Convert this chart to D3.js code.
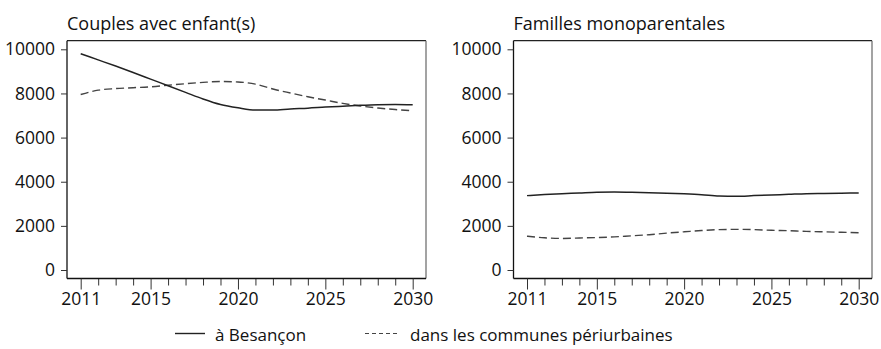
<!DOCTYPE html>
<html>
<head>
<meta charset="utf-8">
<script src="https://cdn.jsdelivr.net/npm/d3@7"></script>
<style>
  html, body { margin: 0; padding: 0; background: #fff; }
  svg { display: block; font-family: "Open Sans", sans-serif; }
</style>
</head>
<body>
<svg id="chart" width="881" height="349"></svg>
<script>
const years = [2011,2012,2013,2014,2015,2016,2017,2018,2019,2020,2021,2022,2023,2024,2025,2026,2027,2028,2029,2030];
const couplesBesancon = [9800,9520,9240,8950,8650,8350,8050,7750,7500,7350,7250,7250,7300,7330,7380,7420,7460,7490,7500,7490];
const couplesPeriurbain = [7950,8150,8220,8260,8300,8370,8440,8500,8540,8520,8420,8200,8020,7850,7700,7550,7430,7340,7270,7220];
const monoBesancon = [3370,3420,3460,3490,3520,3530,3520,3500,3480,3450,3410,3350,3340,3370,3400,3430,3460,3470,3480,3490];
const monoPeriurbain = [1530,1460,1430,1450,1470,1500,1550,1600,1670,1730,1790,1830,1840,1830,1800,1780,1750,1730,1710,1690];
const yTicks = [0,2000,4000,6000,8000,10000];
const xLabelTicks = [2011,2015,2020,2025,2030];
const panelTitles = ["Couples avec enfant(s)", "Familles monoparentales"];
const seriesNames = ["à Besançon", "dans les communes périurbaines"];

const svg = d3.select("#chart");

const panels = [
  { title: panelTitles[0], left: 67, right: 426, x0: 80.7, x1: 412.7, solid: couplesBesancon, dashed: couplesPeriurbain },
  { title: panelTitles[1], left: 513.5, right: 872, x0: 527, x1: 858.7, solid: monoBesancon, dashed: monoPeriurbain }
];
const frameTop = 40.7, frameBottom = 278.5;
const y = d3.scaleLinear().domain([0, 10000]).range([270, 49.3]);

panels.forEach(p => {
  const g = svg.append("g");
  const x = d3.scaleLinear().domain([2011, 2030]).range([p.x0, p.x1]);

  // frame
  g.append("line").attr("x1", p.left).attr("x2", p.right).attr("y1", frameTop).attr("y2", frameTop).attr("stroke", "#222").attr("stroke-width", 1.2);
  g.append("line").attr("x1", p.right).attr("x2", p.right).attr("y1", frameTop).attr("y2", frameBottom).attr("stroke", "#666").attr("stroke-width", 1.2);

  // y axis
  const yAxis = d3.axisLeft(y).tickValues(yTicks).tickSize(6).tickPadding(6).tickFormat(d3.format("d"));
  const ya = g.append("g").attr("transform", `translate(${p.left},0)`).call(yAxis);
  ya.select(".domain").attr("d", `M0,${frameTop}V${frameBottom}`).attr("stroke", "#111").attr("stroke-width", 1.3);
  ya.selectAll(".tick line").attr("stroke", "#333");
  ya.selectAll(".tick text").attr("font-size", 17.5).attr("fill", "#111").attr("font-family", "Open Sans");

  // x axis: minor ticks every year, labeled longer ticks
  const xAxisMinor = d3.axisBottom(x).tickValues(years.filter(v => !xLabelTicks.includes(v))).tickSize(7).tickFormat("");
  const xm = g.append("g").attr("transform", `translate(0,${frameBottom})`).call(xAxisMinor);
  xm.select(".domain").remove();
  xm.selectAll(".tick line").attr("stroke", "#333");
  const xAxis = d3.axisBottom(x).tickValues(xLabelTicks).tickSize(11).tickPadding(3).tickFormat(d3.format("d"));
  const xa = g.append("g").attr("transform", `translate(0,${frameBottom})`).call(xAxis);
  xa.select(".domain").attr("d", `M${p.left},0H${p.right}`).attr("stroke", "#111").attr("stroke-width", 1.3);
  xa.selectAll(".tick line").attr("stroke", "#333");
  xa.selectAll(".tick text").attr("font-size", 17.5).attr("fill", "#111").attr("font-family", "Open Sans");

  // title
  g.append("text").attr("x", p.left).attr("y", 29.5).attr("font-size", 18).attr("fill", "#111").text(p.title);

  const line = d3.line().x((d, i) => x(years[i])).y(d => y(d)).curve(d3.curveMonotoneX);
  g.append("path").datum(p.dashed).attr("d", line).attr("fill", "none").attr("stroke", "#444").attr("stroke-width", 1.4).attr("stroke-dasharray", "8,4");
  g.append("path").datum(p.solid).attr("d", line).attr("fill", "none").attr("stroke", "#222").attr("stroke-width", 1.5);
});

// legend
const leg = svg.append("g");
leg.append("line").attr("x1", 175).attr("x2", 205).attr("y1", 333.5).attr("y2", 333.5).attr("stroke", "#222").attr("stroke-width", 1.4);
leg.append("text").attr("x", 215).attr("y", 340.5).attr("font-size", 17).attr("fill", "#111").text(seriesNames[0]);
leg.append("line").attr("x1", 365).attr("x2", 400).attr("y1", 333.5).attr("y2", 333.5).attr("stroke", "#444").attr("stroke-width", 1).attr("stroke-dasharray", "4,3");
leg.append("text").attr("x", 410).attr("y", 340.5).attr("font-size", 17).attr("fill", "#111").text(seriesNames[1]);
</script>
</body>
</html>
